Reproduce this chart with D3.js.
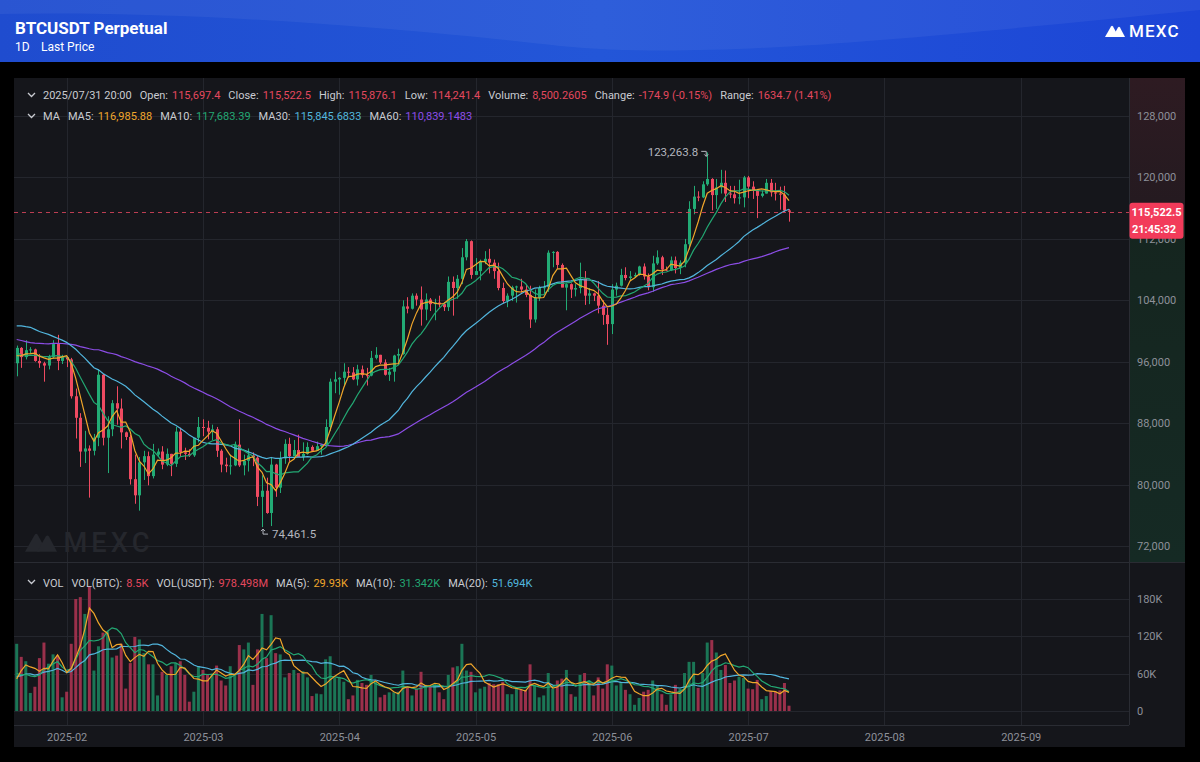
<!DOCTYPE html>
<html>
<head>
<meta charset="utf-8">
<script src="https://cdn.jsdelivr.net/npm/d3@7"></script>
<style>
  html, body { margin: 0; padding: 0; background: #000; }
  svg { display: block; font-family: Roboto, "Noto Sans", sans-serif; }
</style>
</head>
<body>
<svg id="chart" width="1200" height="762"></svg>
<script>
// daily candles BTCUSDT perpetual, prices in thousands of USDT, first bar 2025-02-12
var opens = [95.8,97.8,96.6,97.5,97.6,96.1,95.8,95.5,96.6,98.3,96.1,96.6,96.3,91.5,88.7,84.3,84.7,84.4,86.1,94.3,
  86.1,87.2,90.6,89.9,86.8,86.2,80.7,78.6,82.9,83.7,81.1,83.9,84.3,82.6,84.0,82.7,86.9,84.2,84.0,83.8,
  86.1,87.5,87.4,86.9,87.2,84.4,82.6,82.4,82.5,85.2,82.5,83.1,83.8,83.5,78.4,79.2,76.3,82.6,79.6,83.4,
  85.3,83.7,84.5,83.6,84.0,84.9,84.4,85.0,85.2,87.5,93.4,93.7,93.9,94.7,94.6,93.7,95.0,94.25,94.2,96.5,
  96.9,95.9,94.3,94.7,96.8,97.0,103.2,102.9,104.6,104.1,102.8,104.1,103.5,103.7,103.5,103.1,106.4,105.6,106.8,109.6,
  111.7,107.3,107.8,109.0,109.4,108.9,107.8,105.6,103.9,104.6,105.7,105.8,105.4,104.7,101.5,104.3,105.6,105.7,110.2,110.3,
  108.6,105.65,106.1,105.4,105.6,106.8,104.6,104.9,104.6,103.3,102.1,100.9,105.4,105.9,107.3,106.9,107.1,107.3,108.4,107.1,
  105.7,108.8,109.6,108.0,107.9,109.2,108.2,108.9,111.3,115.9,117.5,117.4,119.1,119.8,117.7,118.7,119.3,117.9,117.8,117.3,
  117.4,120.0,118.8,118.3,117.6,117.9,119.3,118.05,117.9,117.76,115.6974];
var highs = [98.1,97.9,98.8,97.9,97.7,97.0,96.0,96.9,98.8,99.5,96.9,96.7,96.5,92.5,89.3,87.0,85.1,86.6,95.0,94.4,
  88.9,91.0,92.8,91.2,86.9,86.5,83.9,83.6,84.4,84.3,85.3,84.7,85.0,84.7,84.0,87.5,87.4,84.8,84.6,86.1,
  88.8,88.5,88.3,87.8,87.5,84.6,83.5,83.9,85.6,88.5,83.9,84.7,84.2,83.7,81.2,80.9,83.6,82.7,84.3,85.9,
  86.1,85.8,86.5,85.5,85.5,85.1,85.6,85.3,88.5,93.8,94.7,94.0,95.8,95.3,95.3,95.6,95.5,95.2,97.4,97.9,
  96.9,96.3,95.2,96.9,97.7,104.0,104.4,104.9,104.9,105.8,104.9,104.3,104.2,104.6,103.7,107.1,107.1,107.3,110.8,111.98,
  111.8,109.5,109.3,110.4,110.7,109.3,108.9,106.3,104.9,105.9,105.9,106.8,106.0,105.9,105.4,105.9,106.5,110.5,110.4,110.4,
  108.8,106.2,106.2,106.1,108.9,107.8,105.6,105.0,106.5,104.0,103.0,106.1,106.3,108.1,108.3,107.8,107.6,108.5,108.8,107.5,
  109.8,110.5,109.8,108.4,109.7,109.7,109.2,111.99,116.9,118.9,118.2,119.5,123.2638,119.9,119.8,120.99,120.9,118.9,118.9,119.7,
  120.2,120.2,119.5,118.5,118.3,119.8,119.8,119.3,118.8,118.9,115.8761];
var lows = [94.1,95.2,96.3,97.1,96.0,95.2,93.4,95.0,96.4,94.9,95.7,95.3,91.2,86.0,82.3,82.8,78.3,83.8,85.0,85.1,
  81.5,86.3,87.8,84.7,85.8,80.0,77.5,76.6,80.6,79.9,80.8,83.6,82.0,82.4,81.1,82.3,83.6,83.2,83.6,83.6,
  85.5,86.3,85.9,85.8,83.6,81.6,81.6,81.3,82.4,82.3,81.2,81.7,82.4,77.2,74.4615,76.2,74.6,78.4,78.9,82.7,
  83.0,83.7,83.6,83.1,83.9,84.3,84.4,83.9,85.1,87.0,91.9,91.7,92.8,93.9,93.6,92.9,93.9,92.9,94.1,96.3,
  95.7,94.2,93.5,93.4,95.8,96.9,102.3,102.8,103.3,100.7,101.4,102.6,101.4,103.1,102.6,102.6,102.0,104.2,106.1,109.2,
  106.8,107.3,106.6,108.7,107.5,106.8,105.3,103.6,103.1,103.9,103.7,105.0,104.4,100.4,101.1,103.9,104.9,105.1,108.3,108.1,
  105.7,102.7,104.3,104.5,104.9,103.4,103.5,103.9,102.3,100.8,98.2,99.6,104.6,105.8,106.6,106.5,106.9,107.2,106.7,105.3,
  105.1,108.6,107.3,107.8,107.8,107.5,107.4,108.3,110.6,115.2,116.9,117.3,118.9,115.7,115.9,117.9,116.8,117.3,116.6,116.5,
  116.1,117.3,117.2,114.7,117.4,117.9,117.5,117.0,115.8,115.5,114.2414];
var closes = [97.8,96.6,97.5,97.6,96.1,95.8,95.5,96.6,98.3,96.1,96.6,96.3,91.5,88.7,84.3,84.7,84.4,86.1,94.3,86.1,
  87.2,90.6,89.9,86.8,86.2,80.7,78.6,82.9,83.7,81.1,83.9,84.3,82.6,84.0,82.7,86.9,84.2,84.0,83.8,86.1,
  87.5,87.4,86.9,87.2,84.4,82.6,82.4,82.5,85.2,82.5,83.1,83.8,83.5,78.4,79.2,76.3,82.6,79.6,83.4,85.3,
  83.7,84.5,83.6,84.0,84.9,84.4,85.0,85.2,87.5,93.4,93.7,93.9,94.7,94.6,93.7,95.0,94.25,94.2,96.5,96.9,
  95.9,94.3,94.7,96.8,97.0,103.2,102.9,104.6,104.1,102.8,104.1,103.5,103.7,103.5,103.1,106.4,105.6,106.8,109.6,111.7,
  107.3,107.8,109.0,109.4,108.9,107.8,105.6,103.9,104.6,105.7,105.8,105.4,104.7,101.5,104.3,105.6,105.7,110.2,110.3,108.6,
  105.65,106.1,105.4,105.6,106.8,104.6,104.9,104.6,103.3,102.1,100.9,105.4,105.9,107.3,106.9,107.1,107.3,108.4,107.1,105.7,
  108.8,109.6,108.0,107.9,109.2,108.2,108.9,111.3,115.9,117.5,117.4,119.1,119.8,117.7,118.7,119.3,117.9,117.8,117.3,117.4,
  120.0,118.8,118.3,117.6,117.9,119.3,118.05,117.9,117.76,115.6974,115.5225];
// volume in thousands of BTC
var volumes = [108,87,80,29,39,85,110,76,91,89, 22,31,108,180,183,156,200,65,104,126,
  128,86,89,108,36,77,119,115,93,75, 75,25,63,58,72,77,80,58,15,31,
  72,66,58,60,73,49,41,72,58,106, 99,110,42,99,156,85,154,93,91,54,
  61,66,61,64,54,24,28,27,83,88, 53,53,47,19,25,50,45,42,58,47,
  22,26,30,30,31,65,37,25,36,63, 42,39,43,30,19,58,70,72,108,65,
  63,30,36,39,45,43,43,47,27,27, 38,34,34,75,41,22,25,61,36,49,
  52,66,27,23,58,61,49,25,54,36, 75,73,41,47,34,27,10,21,31,34,
  49,41,27,10,26,42,36,61,79,79, 37,61,110,114,94,66,74,45,49,55,
  53,36,35,50,19,24,32,31,33,45,8.5];
// closes / volumes before the first visible bar, only used for the moving averages
var priorCloses = [104.4,106.0,106.1,100.2,97.5,97.8,97.2,95.2,94.9,98.7,99.4,95.8,94.2,95.2,93.6,92.8,93.6,
  94.6,96.9,98.1,98.2,98.4,102.3,96.9,95.0,92.5,94.7,94.6,94.5,94.5,96.5,100.5,99.9,104.1,104.4,101.1,102.0,
  106.1,103.7,103.9,104.8,104.7,102.6,102.1,101.3,103.7,104.7,102.4,
  100.6,97.7,101.4,97.9,96.6,96.6,96.5,96.5,96.4,97.4,95.8];
var priorVolumes = [55,25,25,80,50,50,50,55,30,80,110,70,55,50,60,20,35,45,50];

var priceTicks = [72, 80, 88, 96, 104, 112, 120, 128];
var volTicks = [0, 60, 120, 180];
var volTickLabels = ["0", "60K", "120K", "180K"];
var timeTickBars = [11, 41, 71, 101, 131, 161, 191, 221];
var timeTickLabels = ["2025-02", "2025-03", "2025-04", "2025-05", "2025-06", "2025-07", "2025-08", "2025-09"];
var lastPrice = 115.5225;

var upColor = "#22ab75", downColor = "#ef4a61";
var volUp = "#1b7656", volDown = "#9a304b";
var maColors = { ma5: "#f0a62b", ma10: "#23a873", ma30: "#52b6de", ma60: "#8c4de6" };

var svg = d3.select("#chart");
var defs = svg.append("defs");

var plotLeft = 14, plotRight = 1129, panelRight = 1185;
var priceTop = 78, priceBottom = 562, volBottom = 725, panelBottom = 747;

var x = d3.scaleLinear().domain([0, closes.length - 1]).range([16.7, 789]);
var y = d3.scaleLinear().domain([72, 128]).range([546, 116]);
var vy = d3.scaleLinear().domain([0, 180]).range([711, 599]);

function movingAvg(values, n, offset) {
  return d3.range(offset, values.length).map(function(i) {
    return d3.mean(values.slice(i - n + 1, i + 1));
  });
}
var allCloses = priorCloses.concat(closes);
var allVols = priorVolumes.concat(volumes);
var ma5 = movingAvg(allCloses, 5, priorCloses.length);
var ma10 = movingAvg(allCloses, 10, priorCloses.length);
var ma30 = movingAvg(allCloses, 30, priorCloses.length);
var ma60 = movingAvg(allCloses, 60, priorCloses.length);
var vma5 = movingAvg(allVols, 5, priorVolumes.length);
var vma10 = movingAvg(allVols, 10, priorVolumes.length);
var vma20 = movingAvg(allVols, 20, priorVolumes.length);

// ---- header
var hg = defs.append("linearGradient").attr("id", "hdr").attr("x1", 0).attr("y1", 0).attr("x2", 1).attr("y2", 0);
hg.append("stop").attr("offset", 0).attr("stop-color", "#1f4ccf");
hg.append("stop").attr("offset", 0.5).attr("stop-color", "#2356d8");
hg.append("stop").attr("offset", 1).attr("stop-color", "#1c45d6");
svg.append("rect").attr("width", 1200).attr("height", 62).attr("fill", "url(#hdr)");
svg.append("path")
  .attr("d", "M0,14 C200,10 420,30 560,46 C700,60 900,40 1200,10 L1200,0 L0,0 Z")
  .attr("fill", "#ffffff").attr("opacity", 0.05);

svg.append("text").attr("x", 15).attr("y", 34).attr("fill", "#fff")
  .attr("font-size", 17).attr("font-weight", 700).text("BTCUSDT Perpetual");
svg.append("text").attr("x", 15).attr("y", 51).attr("fill", "#fff")
  .attr("font-size", 12).text("1D");
svg.append("text").attr("x", 41).attr("y", 51).attr("fill", "#fff")
  .attr("font-size", 12).text("Last Price");

function drawLogo(g, tx, ty, s, color, spacing) {
  var lg = g.append("g").attr("transform", "translate(" + tx + "," + ty + ") scale(" + s + ")");
  lg.append("path").attr("d", "M0,13 L6,2.5 Q7,1 8,2.5 L11,8 L9,13 Z").attr("fill", color);
  lg.append("path").attr("d", "M7.5,13 L13,3.5 Q14,2 15,3.5 L20,13 Z").attr("fill", color);
  lg.append("text").attr("x", 24).attr("y", 13).attr("fill", color)
    .attr("font-size", 17).attr("font-weight", 500).attr("letter-spacing", spacing).text("MEXC");
}
drawLogo(svg, 1105, 24, 1, "#ffffff", 1.2);

// ---- panel
svg.append("rect").attr("x", plotLeft).attr("y", priceTop)
  .attr("width", panelRight - plotLeft).attr("height", panelBottom - priceTop).attr("fill", "#15161b");

var ag = defs.append("linearGradient").attr("id", "axisGrad").attr("x1", 0).attr("y1", 0).attr("x2", 0).attr("y2", 1);
var split = (y(lastPrice) - priceTop) / (priceBottom - priceTop);
ag.append("stop").attr("offset", 0).attr("stop-color", "#2e1b22");
ag.append("stop").attr("offset", split).attr("stop-color", "#241a20");
ag.append("stop").attr("offset", split).attr("stop-color", "#15251f");
ag.append("stop").attr("offset", 1).attr("stop-color", "#152a24");
svg.append("rect").attr("x", plotRight).attr("y", priceTop)
  .attr("width", panelRight - plotRight).attr("height", priceBottom - priceTop).attr("fill", "url(#axisGrad)");

// grid
var grid = svg.append("g").attr("stroke", "#24262d").attr("stroke-width", 1);
grid.selectAll(".hp").data(priceTicks).enter().append("line")
  .attr("x1", plotLeft).attr("x2", plotRight)
  .attr("y1", function(d) { return Math.round(y(d)) + 0.5; })
  .attr("y2", function(d) { return Math.round(y(d)) + 0.5; });
grid.selectAll(".hv").data(volTicks).enter().append("line")
  .attr("x1", plotLeft).attr("x2", plotRight)
  .attr("y1", function(d) { return Math.round(vy(d)) + 0.5; })
  .attr("y2", function(d) { return Math.round(vy(d)) + 0.5; });
grid.selectAll(".vv").data(timeTickBars).enter().append("line")
  .attr("x1", function(d) { return Math.round(x(d)) + 0.5; })
  .attr("x2", function(d) { return Math.round(x(d)) + 0.5; })
  .attr("y1", priceTop).attr("y2", volBottom);

var sep = svg.append("g").attr("stroke", "#2a2c33").attr("stroke-width", 1);
sep.append("line").attr("x1", plotRight + 0.5).attr("x2", plotRight + 0.5).attr("y1", priceTop).attr("y2", volBottom);
sep.append("line").attr("x1", plotLeft).attr("x2", panelRight).attr("y1", priceBottom + 0.5).attr("y2", priceBottom + 0.5);
sep.append("line").attr("x1", plotLeft).attr("x2", plotRight).attr("y1", volBottom + 0.5).attr("y2", volBottom + 0.5);

// watermark
drawLogo(svg, 25, 531, 1.6, "#25272d", 2.6);

defs.append("clipPath").attr("id", "plotClip").append("rect")
  .attr("x", plotLeft).attr("y", priceTop).attr("width", plotRight - plotLeft).attr("height", volBottom - priceTop);

var plot = svg.append("g").attr("clip-path", "url(#plotClip)");
var bars = d3.range(closes.length);
var bodyW = 3;

function isUp(i) { return closes[i] >= opens[i]; }

// volume bars
plot.append("g").selectAll("rect").data(bars).enter().append("rect")
  .attr("x", function(i) { return x(i) - bodyW / 2; })
  .attr("width", bodyW)
  .attr("y", function(i) { return vy(volumes[i]); })
  .attr("height", function(i) { return vy(0) - vy(volumes[i]); })
  .attr("fill", function(i) { return isUp(i) ? volUp : volDown; });

// candles
var candles = plot.append("g").selectAll("g").data(bars).enter().append("g");
candles.append("line")
  .attr("x1", function(i) { return Math.round(x(i)) + 0.5; })
  .attr("x2", function(i) { return Math.round(x(i)) + 0.5; })
  .attr("y1", function(i) { return y(highs[i]); })
  .attr("y2", function(i) { return y(lows[i]); })
  .attr("stroke", function(i) { return isUp(i) ? upColor : downColor; });
candles.append("rect")
  .attr("x", function(i) { return Math.round(x(i)) + 0.5 - bodyW / 2; })
  .attr("width", bodyW)
  .attr("y", function(i) { return y(Math.max(opens[i], closes[i])); })
  .attr("height", function(i) { return Math.max(1, Math.abs(y(opens[i]) - y(closes[i]))); })
  .attr("fill", function(i) { return isUp(i) ? upColor : downColor; });

// moving averages
function drawLine(data, scale, color) {
  plot.append("path").datum(data)
    .attr("fill", "none").attr("stroke", color).attr("stroke-width", 1.2)
    .attr("d", d3.line().x(function(d, i) { return x(i); }).y(function(d) { return scale(d); }));
}
drawLine(ma60, y, maColors.ma60);
drawLine(ma30, y, maColors.ma30);
drawLine(ma10, y, maColors.ma10);
drawLine(ma5, y, maColors.ma5);
drawLine(vma20, vy, maColors.ma30);
drawLine(vma10, vy, maColors.ma10);
drawLine(vma5, vy, maColors.ma5);

// last price line
svg.append("line").attr("x1", plotLeft).attr("x2", plotRight)
  .attr("y1", Math.round(y(lastPrice)) + 0.5).attr("y2", Math.round(y(lastPrice)) + 0.5)
  .attr("stroke", "#d9455c").attr("stroke-dasharray", "4,4").attr("opacity", 0.85);

// high / low markers
var hiIdx = d3.maxIndex(highs), loIdx = d3.minIndex(lows);
var fmt1 = d3.format(",.1f");
var mk = svg.append("g").attr("fill", "#b4b7bf").attr("font-size", 11.5);
mk.append("text").attr("x", x(hiIdx) - 9).attr("y", y(highs[hiIdx]) + 4)
  .attr("text-anchor", "end").text(fmt1(highs[hiIdx] * 1000));
mk.append("path")
  .attr("d", "M" + (x(hiIdx) - 6) + "," + (y(highs[hiIdx]) - 1) + " H" + (x(hiIdx) - 1) + " V" + (y(highs[hiIdx]) + 4)
    + " M" + (x(hiIdx) - 3) + "," + (y(highs[hiIdx]) + 2) + " L" + (x(hiIdx) - 1) + "," + (y(highs[hiIdx]) + 4)
    + " L" + (x(hiIdx) + 1) + "," + (y(highs[hiIdx]) + 2))
  .attr("fill", "none").attr("stroke", "#b4b7bf").attr("stroke-width", 1);
mk.append("text").attr("x", x(loIdx) + 10).attr("y", y(lows[loIdx]) + 11).text(fmt1(lows[loIdx] * 1000));
mk.append("path")
  .attr("d", "M" + (x(loIdx) + 6) + "," + (y(lows[loIdx]) + 7) + " H" + (x(loIdx) + 1) + " V" + (y(lows[loIdx]) + 2)
    + " M" + (x(loIdx) - 1) + "," + (y(lows[loIdx]) + 4) + " L" + (x(loIdx) + 1) + "," + (y(lows[loIdx]) + 2)
    + " L" + (x(loIdx) + 3) + "," + (y(lows[loIdx]) + 4))
  .attr("fill", "none").attr("stroke", "#b4b7bf").attr("stroke-width", 1);

// price axis
var yAxis = d3.axisRight(y).tickValues(priceTicks).tickSize(0).tickPadding(8)
  .tickFormat(function(d) { return d3.format(",")(d * 1000); });
var ya = svg.append("g").attr("transform", "translate(" + plotRight + ",0)").call(yAxis);
ya.select(".domain").remove();
ya.selectAll("text").attr("fill", "#8d9099").attr("font-size", 11).attr("font-family", "Roboto, sans-serif");

var vAxis = d3.axisRight(vy).tickValues(volTicks).tickSize(0).tickPadding(8)
  .tickFormat(function(d, i) { return volTickLabels[i]; });
var va = svg.append("g").attr("transform", "translate(" + plotRight + ",0)").call(vAxis);
va.select(".domain").remove();
va.selectAll("text").attr("fill", "#8d9099").attr("font-size", 11).attr("font-family", "Roboto, sans-serif");

var xAxis = d3.axisBottom(x).tickValues(timeTickBars).tickSize(0).tickPadding(8)
  .tickFormat(function(d, i) { return timeTickLabels[i]; });
var xa = svg.append("g").attr("transform", "translate(0," + volBottom + ")").call(xAxis);
xa.select(".domain").remove();
xa.selectAll("text").attr("fill", "#8d9099").attr("font-size", 11).attr("font-family", "Roboto, sans-serif");

// last price tag
var tagY = y(lastPrice);
svg.append("rect").attr("x", plotRight + 0.5).attr("y", tagY - 9).attr("width", 54).attr("height", 36)
  .attr("rx", 3).attr("fill", "#f23b5a");
svg.append("text").attr("x", plotRight + 27.5).attr("y", tagY + 4).attr("fill", "#fff").attr("text-anchor", "middle")
  .attr("font-size", 11).attr("font-weight", 700).text(d3.format(",.1f")(lastPrice * 1000));
svg.append("text").attr("x", plotRight + 3).attr("y", tagY + 21).attr("fill", "#fff")
  .attr("font-size", 11).attr("font-weight", 700).text("21:45:32");

// info rows
var labelColor = "#c9cbd1", redVal = "#e4485e";
function chevron(cy) {
  svg.append("path").attr("d", "M28," + (cy - 2) + " L31.5," + (cy + 1.5) + " L35," + (cy - 2))
    .attr("fill", "none").attr("stroke", labelColor).attr("stroke-width", 1.3);
}
function infoRow(yPos, items) {
  var cx = 43;
  items.forEach(function(it) {
    var t = svg.append("text").attr("x", cx).attr("y", yPos).attr("fill", it.c)
      .attr("font-size", 11).text(it.t);
    cx += t.node().getComputedTextLength() + it.g;
  });
}
chevron(95);
infoRow(99, [
  { t: "2025/07/31 20:00", c: labelColor, g: 8 },
  { t: "Open:", c: labelColor, g: 4 }, { t: "115,697.4", c: redVal, g: 8 },
  { t: "Close:", c: labelColor, g: 4 }, { t: "115,522.5", c: redVal, g: 8 },
  { t: "High:", c: labelColor, g: 4 }, { t: "115,876.1", c: redVal, g: 8 },
  { t: "Low:", c: labelColor, g: 4 }, { t: "114,241.4", c: redVal, g: 8 },
  { t: "Volume:", c: labelColor, g: 4 }, { t: "8,500.2605", c: redVal, g: 8 },
  { t: "Change:", c: labelColor, g: 4 }, { t: "-174.9 (-0.15%)", c: redVal, g: 8 },
  { t: "Range:", c: labelColor, g: 4 }, { t: "1634.7 (1.41%)", c: redVal, g: 8 }
]);
chevron(116);
infoRow(120, [
  { t: "MA", c: labelColor, g: 8 },
  { t: "MA5:", c: labelColor, g: 4 }, { t: "116,985.88", c: maColors.ma5, g: 8 },
  { t: "MA10:", c: labelColor, g: 4 }, { t: "117,683.39", c: maColors.ma10, g: 8 },
  { t: "MA30:", c: labelColor, g: 4 }, { t: "115,845.6833", c: maColors.ma30, g: 8 },
  { t: "MA60:", c: labelColor, g: 4 }, { t: "110,839.1483", c: maColors.ma60, g: 8 }
]);
chevron(582);
infoRow(587, [
  { t: "VOL", c: labelColor, g: 8 },
  { t: "VOL(BTC):", c: labelColor, g: 4 }, { t: "8.5K", c: redVal, g: 8 },
  { t: "VOL(USDT):", c: labelColor, g: 4 }, { t: "978.498M", c: redVal, g: 8 },
  { t: "MA(5):", c: labelColor, g: 4 }, { t: "29.93K", c: maColors.ma5, g: 8 },
  { t: "MA(10):", c: labelColor, g: 4 }, { t: "31.342K", c: maColors.ma10, g: 8 },
  { t: "MA(20):", c: labelColor, g: 4 }, { t: "51.694K", c: maColors.ma30, g: 8 }
]);
</script>
</body>
</html>
